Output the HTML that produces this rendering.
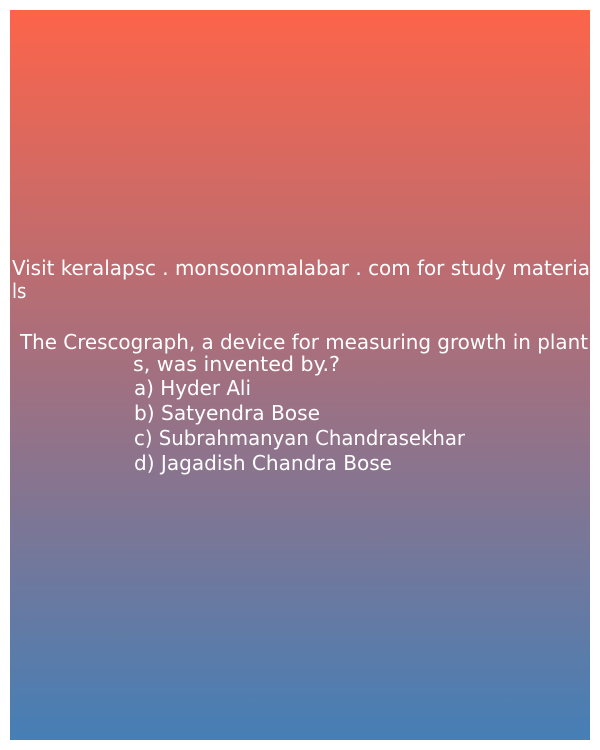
<!DOCTYPE html>
<html><head><meta charset="utf-8"><style>
html,body{margin:0;padding:0;background:#fff;width:600px;height:750px;overflow:hidden}
svg{display:block}
text{font-family:"DejaVu Sans Condensed","DejaVu Sans","Liberation Sans",sans-serif;font-size:20px;fill:#fff;font-stretch:condensed}
</style></head><body>
<svg width="600" height="750">
<defs><linearGradient id="g" x1="0" y1="0" x2="0" y2="1">
<stop offset="0" stop-color="#fd644a"/><stop offset="0.5" stop-color="#a27080"/><stop offset="1" stop-color="#457fb6"/></linearGradient></defs>
<rect x="10" y="10" width="580" height="730" fill="url(#g)"/>
<text x="12" y="275" textLength="578" lengthAdjust="spacingAndGlyphs">Visit keralapsc . monsoonmalabar . com for study materia</text>
<text x="12" y="298">ls</text>
<text x="20" y="349" textLength="568" lengthAdjust="spacingAndGlyphs">The Crescograph, a device for measuring growth in plant</text>
<text x="133" y="371" textLength="207" lengthAdjust="spacingAndGlyphs">s, was invented by.?</text>
<text x="134" y="395" textLength="117" lengthAdjust="spacingAndGlyphs">a) Hyder Ali</text>
<text x="134" y="420" textLength="186" lengthAdjust="spacingAndGlyphs">b) Satyendra Bose</text>
<text x="134" y="445" textLength="331" lengthAdjust="spacingAndGlyphs">c) Subrahmanyan Chandrasekhar</text>
<text x="134" y="470" textLength="258" lengthAdjust="spacingAndGlyphs">d) Jagadish Chandra Bose</text>
</svg>
</body></html>
